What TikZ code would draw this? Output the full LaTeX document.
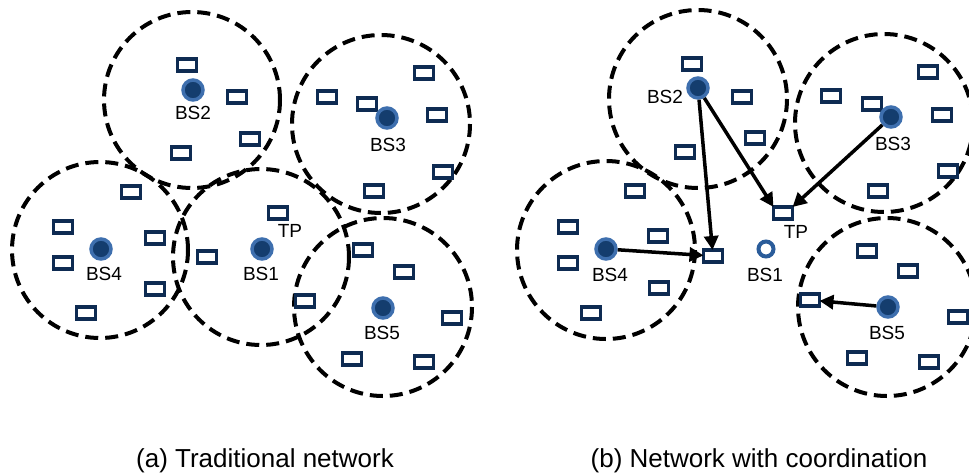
\documentclass[tikz,border=0pt]{standalone}
\usepackage{fontspec}
\setmainfont{Liberation Sans}
\usetikzlibrary{arrows.meta}
\definecolor{uenavy}{HTML}{0E2B52}
\definecolor{bsfill}{HTML}{143D6E}
\definecolor{bsrim}{HTML}{3E6FAE}
\definecolor{bsopen}{HTML}{2A5C9A}
\begin{document}
\begin{tikzpicture}[x=1pt,y=-1pt,
  cell/.style={draw=black, line width=4pt, dash pattern=on 13pt off 7pt},
  ue/.style={draw=uenavy, line width=3.5pt, minimum width=19pt, minimum height=12pt, inner sep=0pt, outer sep=0pt},
  bs/.style={circle, fill=bsfill, draw=bsrim, line width=3.5pt, minimum size=20pt, inner sep=0pt},
  bsoff/.style={circle, fill=white, draw=bsopen, line width=4pt, minimum size=15pt, inner sep=0pt},
  lbl/.style={font=\fontsize{19}{22}\selectfont, inner sep=0pt},
  captext/.style={font=\fontsize{26}{30}\selectfont, inner sep=0pt, anchor=base},
  link/.style={draw=black, line width=3.5pt, -{Triangle[length=14pt,width=14pt]}}
]
\useasboundingbox (0,0) rectangle (969,472);

% ---------- (a) traditional network ----------
\draw[cell] (192,100) circle[radius=88];
\draw[cell] (381,124) circle[radius=89];
\draw[cell] (100,250) circle[radius=88];
\draw[cell] (261,257) circle[radius=88];
\draw[cell] (383,307) circle[radius=89];

\foreach \p [count=\i] in {(187,65),(237,97),(250,139),(181,153),(327,97),(367,104),
  (424,73),(437,115),(443,172),(374,191),(131,192),(63,227),(155,238),(63,263),
  (155,289),(86,313),(207,257),(363,250),(404,272),(305,301),(452,318),(352,359),(424,362)}
  \node[ue] (ua\i) at \p {};
\node[ue] (tpa) at (278,213) {};

\node[bs] (pa1) at (262,249) {};
\node[bs] (pa2) at (193,90) {};
\node[bs] (pa3) at (387,118) {};
\node[bs] (pa4) at (101,249) {};
\node[bs] (pa5) at (383,308) {};

\node[lbl] (la1) at (261,274) {BS1};
\node[lbl] (la2) at (193,113) {BS2};
\node[lbl] (la3) at (388,145) {BS3};
\node[lbl] (la4) at (104,274) {BS4};
\node[lbl] (la5) at (382,333) {BS5};
\node[lbl] (lta) at (290,231) {TP};

% ---------- (b) network with coordination ----------
\draw[cell] (698,99) circle[radius=89];
\draw[cell] (884,123) circle[radius=89];
\draw[cell] (606,250) circle[radius=89];
\draw[cell] (887,307) circle[radius=89];

\foreach \p [count=\i] in {(692,64),(742,97),(755,138),(685,152),(831,96),(872,104),
  (928,72),(942,115),(948,171),(878,191),(635,191),(568,227),(658,236),(568,263),
  (659,288),(591,313),(867,251),(908,271),(958,317),(857,358),(929,362)}
  \node[ue] (ub\i) at \p {};
\node[ue] (tpb) at (783,213) {};
\node[ue] (ue4) at (713,256) {};
\node[ue] (ue5) at (810,300) {};

\node[bsoff] (pb1) at (766,249) {};
\node[bs] (pb2) at (698,88) {};
\node[bs] (pb3) at (891,117) {};
\node[bs] (pb4) at (606,249) {};
\node[bs] (pb5) at (888,307) {};

\draw[link] (pb2) -- (ue4);
\draw[link] (pb2) -- (tpb.north west);
\draw[link] (pb3) -- (tpb.north east);
\draw[link] (pb4) -- (ue4);
\draw[link] (pb5) -- (ue5);

\node[lbl] (lb1) at (765,275) {BS1};
\node[lbl] (lb2) at (665,97) {BS2};
\node[lbl] (lb3) at (893,144) {BS3};
\node[lbl] (lb4) at (610,275) {BS4};
\node[lbl] (lb5) at (887,333) {BS5};
\node[lbl] (ltb) at (796,232) {TP};

% ---------- captions ----------
\node[captext] (capa) at (265,467) {(a) Traditional network};
\node[captext] (capb) at (759,467) {(b) Network with coordination};
\end{tikzpicture}
\end{document}
